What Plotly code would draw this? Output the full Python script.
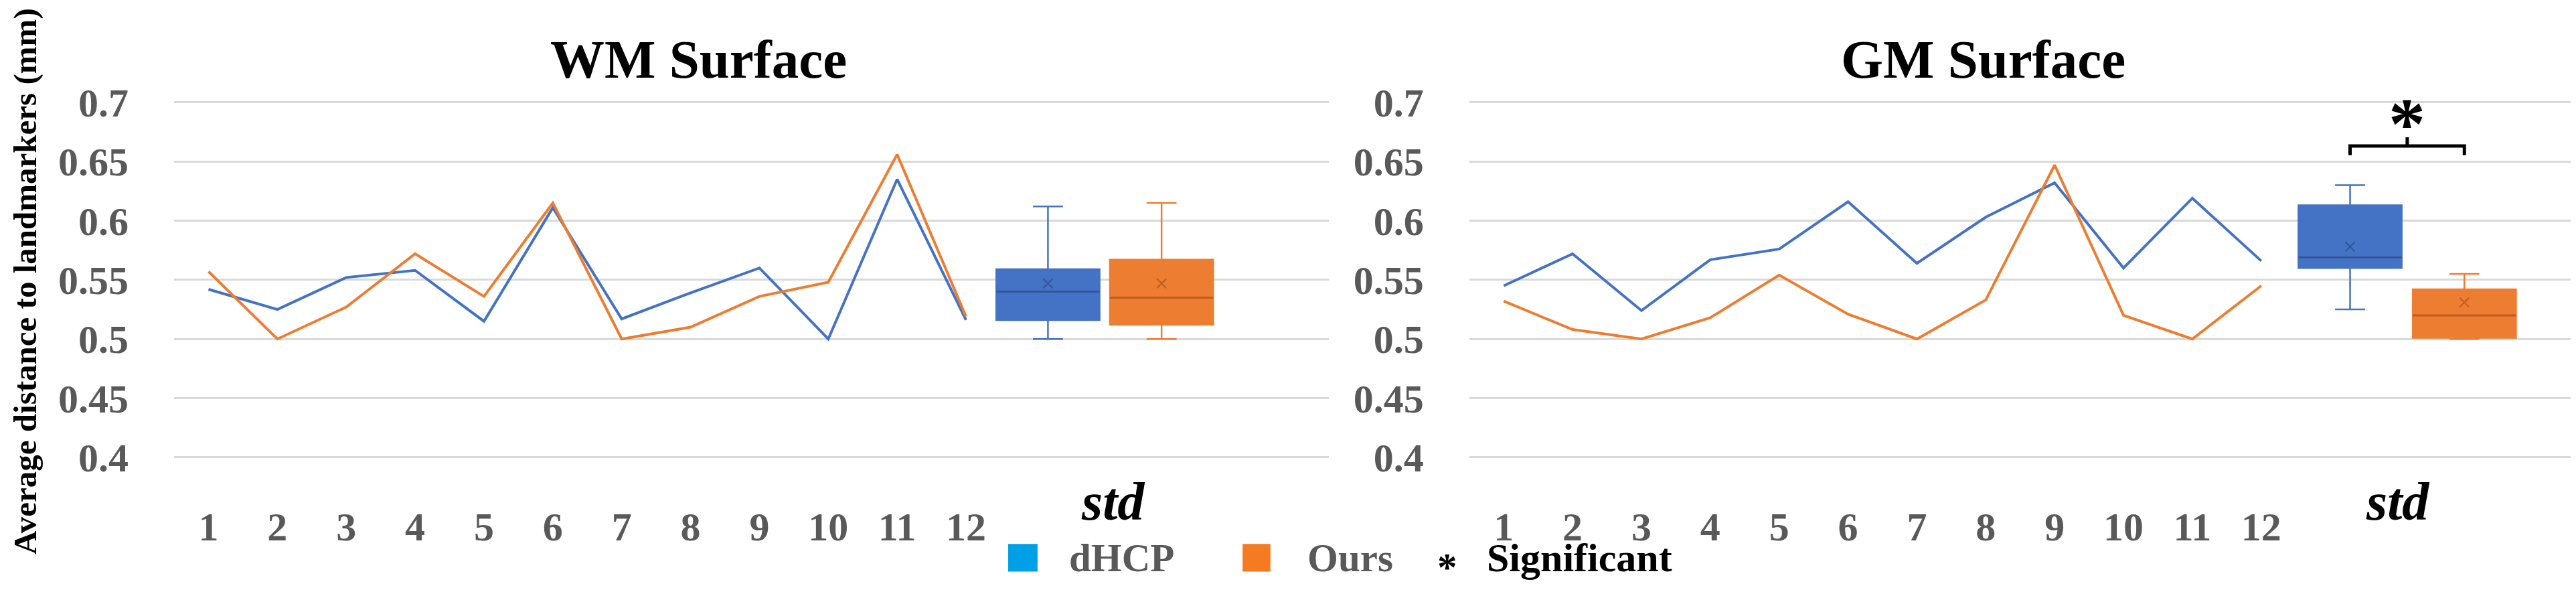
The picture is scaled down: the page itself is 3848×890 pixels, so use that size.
import plotly.graph_objects as go

# landmark index on the x axis
landmarks = list(range(1, 13))
tick_text = [str(i) for i in landmarks]

# average distance per landmark (mm)
wm_dhcp = [0.542, 0.525, 0.552, 0.558, 0.515, 0.611, 0.517, 0.539, 0.560, 0.500, 0.635, 0.516]
wm_ours = [0.557, 0.500, 0.527, 0.572, 0.536, 0.615, 0.500, 0.510, 0.536, 0.548, 0.656, 0.519]
gm_dhcp = [0.545, 0.572, 0.524, 0.567, 0.576, 0.616, 0.564, 0.603, 0.632, 0.560, 0.619, 0.566]
gm_ours = [0.532, 0.508, 0.500, 0.518, 0.554, 0.521, 0.500, 0.533, 0.647, 0.520, 0.500, 0.545]

# "std" box stats: lower whisker, q1, median, q3, upper whisker, mean
wm_box_dhcp = [0.500, 0.516, 0.540, 0.559, 0.612, 0.547]
wm_box_ours = [0.500, 0.512, 0.535, 0.567, 0.615, 0.547]
gm_box_dhcp = [0.525, 0.560, 0.569, 0.613, 0.630, 0.578]
gm_box_ours = [0.500, 0.501, 0.520, 0.542, 0.555, 0.531]

y_ticks = [0.4, 0.45, 0.5, 0.55, 0.6, 0.65, 0.7]
y_tick_text = ["0.4", "0.45", "0.5", "0.55", "0.6", "0.65", "0.7"]

BLUE = "#4472C4"
ORANGE = "#ED7D31"
BLUE_DARK = "#2F528F"
ORANGE_DARK = "#B4561F"
GREY = "#595959"
FONT = "Liberation Serif"

BOX_W = 1.5
# x positions of the two boxes and the "std" label, per panel
pos_wm = (13.19, 14.84, 14.13)
pos_gm = (13.29, 14.95, 13.98)

fig = go.Figure()


def add_panel(xa, ya, dhcp, ours, box_d, box_o, pos):
    fig.add_trace(go.Scatter(x=landmarks, y=dhcp, mode="lines", line=dict(color=BLUE, width=4),
                             xaxis=xa, yaxis=ya, showlegend=False))
    fig.add_trace(go.Scatter(x=landmarks, y=ours, mode="lines", line=dict(color=ORANGE, width=4),
                             xaxis=xa, yaxis=ya, showlegend=False))
    for stats, p, col, dark in [(box_d, pos[0], BLUE, BLUE_DARK), (box_o, pos[1], ORANGE, ORANGE_DARK)]:
        lo, q1, med, q3, hi, mean = stats
        fig.add_trace(go.Box(x=[p], lowerfence=[lo], q1=[q1], median=[med], q3=[q3], upperfence=[hi],
                             width=BOX_W, whiskerwidth=0.29, fillcolor=col,
                             line=dict(color=col, width=2.5), boxpoints=False,
                             xaxis=xa, yaxis=ya, showlegend=False, hoverinfo="skip"))
        # median line, darker
        fig.add_trace(go.Scatter(x=[p - BOX_W / 2, p + BOX_W / 2], y=[med, med], mode="lines",
                                 line=dict(color=dark, width=3), opacity=0.8, xaxis=xa, yaxis=ya,
                                 showlegend=False))
        # mean marker
        fig.add_trace(go.Scatter(x=[p], y=[mean], mode="markers", opacity=0.8,
                                 marker=dict(symbol="x-thin", size=14, line=dict(color=dark, width=2)),
                                 xaxis=xa, yaxis=ya, showlegend=False))


add_panel("x", "y", wm_dhcp, wm_ours, wm_box_dhcp, wm_box_ours, pos_wm)
add_panel("x2", "y2", gm_dhcp, gm_ours, gm_box_dhcp, gm_box_ours, pos_gm)

tickfont = dict(family=FONT, size=60, color=GREY, weight="bold")
xcommon = dict(tickvals=landmarks, ticktext=tick_text, showgrid=False, zeroline=False, showline=False,
               ticks="outside", ticklen=48, tickcolor="rgba(0,0,0,0)", tickfont=tickfont)
ycommon = dict(range=[0.398, 0.702], tickvals=y_ticks, ticktext=y_tick_text, showgrid=True,
               gridcolor="#D9D9D9", gridwidth=3, zeroline=False, showline=False,
               ticks="outside", ticklen=55, tickcolor="rgba(0,0,0,0)", tickfont=tickfont,
               domain=[0.2182, 0.8638])

fig.update_layout(
    width=3848, height=890,
    margin=dict(l=0, r=0, t=0, b=0),
    paper_bgcolor="white", plot_bgcolor="white",
    xaxis=dict(domain=[0.0655, 0.5138], range=[0.5, 17.27], **xcommon),
    xaxis2=dict(domain=[0.5683, 0.9979], range=[0.5, 16.57], anchor="y2", **xcommon),
    yaxis=dict(anchor="x", **ycommon),
    yaxis2=dict(anchor="x2", **ycommon),
)

annotations = [
    dict(text="<b>WM Surface</b>", x=0.269, y=0.936, xref="paper", yref="paper",
         font=dict(family=FONT, size=81, color="black")),
    dict(text="<b>GM Surface</b>", x=0.7677, y=0.936, xref="paper", yref="paper",
         font=dict(family=FONT, size=81, color="black")),
    dict(text="<b><i>std</i></b>", x=pos_wm[2], y=0.143, xref="x", yref="paper",
         font=dict(family=FONT, size=80, color="black")),
    dict(text="<b><i>std</i></b>", x=pos_gm[2], y=0.143, xref="x2", yref="paper",
         font=dict(family=FONT, size=80, color="black")),
    dict(text="<b>Average distance to landmarkers (mm)</b>", x=0.0, y=0.538, xref="paper",
         yref="paper", xanchor="left", textangle=-90,
         font=dict(family=FONT, size=49, color="black")),
    # significance star above the bracket
    dict(text="<b>*</b>", x=(pos_gm[0] + pos_gm[1]) / 2, y=0.682, xref="x2", yref="y2",
         font=dict(family=FONT, size=110, color="black")),
    # legend texts
    dict(text="<b>dHCP</b>", x=0.4124, y=0.042, xref="paper", yref="paper", xanchor="left",
         font=dict(family=FONT, size=59, color=GREY)),
    dict(text="<b>Ours</b>", x=0.5049, y=0.042, xref="paper", yref="paper", xanchor="left",
         font=dict(family=FONT, size=59, color=GREY)),
    dict(text="<b>*</b>", x=0.5598, y=0.025, xref="paper", yref="paper",
         font=dict(family=FONT, size=59, color="black")),
    dict(text="<b>Significant</b>", x=0.5746, y=0.042, xref="paper", yref="paper", xanchor="left",
         font=dict(family=FONT, size=60, color="black")),
]
for a in annotations:
    a.setdefault("showarrow", False)
    a.setdefault("xanchor", "center")
    a.setdefault("yanchor", "middle")
    fig.add_annotation(**a)

# bracket joining the two GM boxes
b_lo, b_hi, b_top = 0.6553, 0.6632, 0.6705
xl, xr = pos_gm[0], pos_gm[1]
xm = (xl + xr) / 2
fig.add_shape(type="path", xref="x2", yref="y2",
              path=f"M {xl},{b_lo} L {xl},{b_hi} L {xr},{b_hi} L {xr},{b_lo}",
              line=dict(color="black", width=5))
fig.add_shape(type="line", xref="x2", yref="y2", x0=xm, x1=xm, y0=b_hi, y1=b_top,
              line=dict(color="black", width=5))

# legend squares
fig.add_shape(type="rect", xref="paper", yref="paper", x0=0.3893, x1=0.4007, y0=0.0175, y1=0.0670,
              fillcolor="#00A0E6", line=dict(width=0))
fig.add_shape(type="rect", xref="paper", yref="paper", x0=0.4803, x1=0.4911, y0=0.0175, y1=0.0670,
              fillcolor="#F47B20", line=dict(width=0))

fig.write_html("out.html")
